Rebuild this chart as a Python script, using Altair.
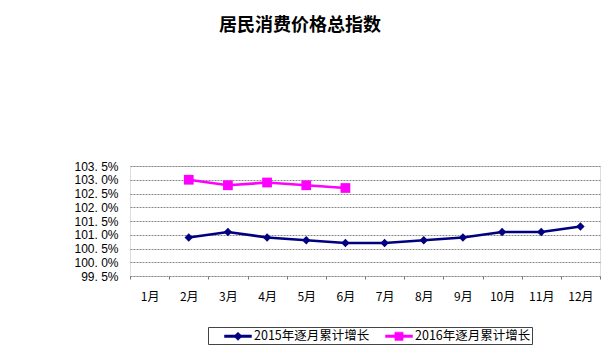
import altair as alt
import pandas as pd

months = ["1月", "2月", "3月", "4月", "5月", "6月", "7月", "8月", "9月", "10月", "11月", "12月"]
series_names = ["2015年逐月累计增长", "2016年逐月累计增长"]
values_2015 = [None, 100.9, 101.1, 100.9, 100.8, 100.7, 100.7, 100.8, 100.9, 101.1, 101.1, 101.3]
values_2016 = [None, 103.0, 102.8, 102.9, 102.8, 102.7, None, None, None, None, None, None]
y_ticks = [99.5, 100.0, 100.5, 101.0, 101.5, 102.0, 102.5, 103.0, 103.5]
colors = ["#000080", "#FF00FF"]

rows = []
for name, vals in zip(series_names, [values_2015, values_2016]):
    for m, v in zip(months, vals):
        if v is not None:
            rows.append({"month": m, "value": v, "series": name})
df = pd.DataFrame(rows)

# legend symbols: a short line with a marker (diamond / square)
legend_shapes = [
    "M-1.8,-0.17L1.8,-0.17L1.8,0.17L-1.8,0.17Z M0,-0.55L0.55,0L0,0.55L-0.55,0Z",
    "M-1.8,-0.17L1.8,-0.17L1.8,0.17L-1.8,0.17Z M-0.55,-0.55L0.55,-0.55L0.55,0.55L-0.55,0.55Z",
]

FONT = "Noto Sans CJK SC"

x_enc = alt.X(
    "month:N",
    sort=months,
    scale=alt.Scale(type="band", domain=months, paddingInner=0, paddingOuter=0),
    axis=alt.Axis(
        title=None,
        domain=False,
        ticks=True,
        tickBand="extent",
        tickSize=3,
        tickColor="#777",
        labelPadding=12,
        labelFont=FONT,
        labelFontSize=12,
        labelColor="#000",
        labelAngle=0,
        grid=False,
    ),
)
y_enc = alt.Y(
    "value:Q",
    scale=alt.Scale(domain=[99.5, 103.5], zero=False, nice=False),
    axis=alt.Axis(
        title=None,
        values=y_ticks,
        domain=False,
        ticks=False,
        labelPadding=12,
        labelFont="Liberation Sans",
        labelFontSize=12,
        labelColor="#000",
        labelExpr="replace(format(datum.value, '.1f'), '.', '. ') + '%'",
        grid=True,
        gridColor="#888",
        gridDash=[2, 1],
        gridWidth=1,
    ),
)
color_scale = alt.Scale(domain=series_names, range=colors)

base = alt.Chart(df)

legend_layer = base.transform_filter("false").mark_point(filled=True).encode(
    x=x_enc,
    y=y_enc,
    color=alt.Color(
        "series:N",
        scale=color_scale,
        legend=alt.Legend(
            title=None,
            orient="none",
            legendX=78,
            legendY=161,
            direction="horizontal",
            symbolSize=225,
            symbolOpacity=1,
            symbolStrokeWidth=0.5,
            labelFont=FONT,
            labelFontSize=12.5,
            labelColor="#000",
            labelLimit=300,
            labelOffset=8,
            columnPadding=0,
            padding=1,
            symbolOffset=21,
            strokeColor="#444",
            labelExpr="datum.label == '2016年逐月累计增长' ? datum.label + '\u3000\u3000' : datum.label",
        ),
    ),
    shape=alt.Shape(
        "series:N",
        scale=alt.Scale(domain=series_names, range=legend_shapes),
        legend=alt.Legend(title=None),
    ),
)

lines = base.mark_line(strokeWidth=2.7).encode(
    x=x_enc,
    y=y_enc,
    color=alt.Color("series:N", scale=color_scale),
    detail="series:N",
)

pts_2015 = base.transform_filter(alt.datum.series == series_names[0]).mark_point(
    shape="diamond", filled=True, size=70, opacity=1
).encode(
    x=x_enc,
    y=y_enc,
    color=alt.Color("series:N", scale=color_scale),
)

pts_2016 = base.transform_filter(alt.datum.series == series_names[1]).mark_point(
    shape="square", filled=True, size=95, opacity=1
).encode(
    x=x_enc,
    y=y_enc,
    color=alt.Color("series:N", scale=color_scale),
)

chart = alt.layer(legend_layer, lines, pts_2015, pts_2016).properties(
    width=470,
    height=110,
    title=alt.TitleParams(
        text="居民消费价格总指数",
        font=FONT,
        fontSize=18,
        fontWeight="bold",
        color="#000",
        anchor="middle",
        frame="group",
        dx=-65,
        offset=125,
    ),
    autosize=alt.AutoSizeParams(type="none"),
    padding={"left": 130, "top": 166, "right": 10, "bottom": 81},
).configure_view(
    stroke="#888",
    strokeDash=[1, 1],
    strokeWidth=1,
).configure(background="white")

chart.save("out.html", embed_options={"renderer": "svg", "actions": False})
